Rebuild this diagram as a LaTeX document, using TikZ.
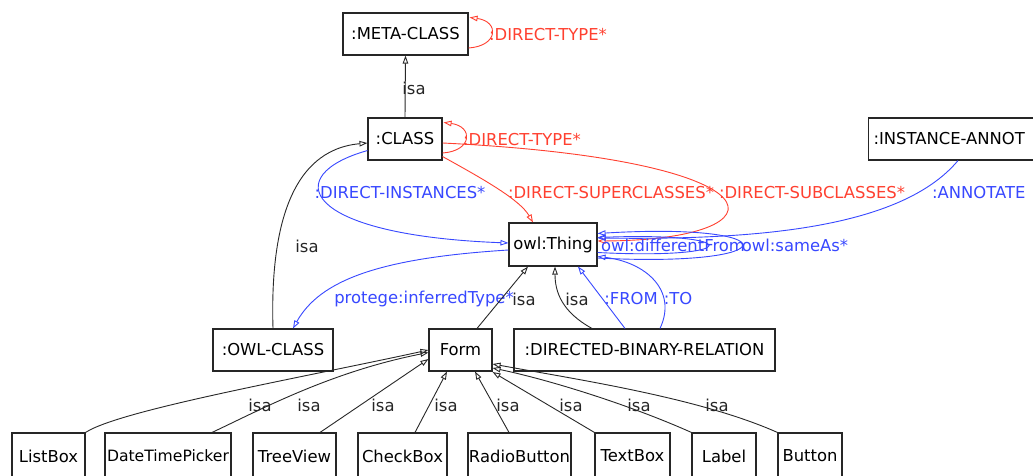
\documentclass[tikz,border=0pt]{standalone}
\usepackage{fontspec}
\setmainfont{DejaVu Sans}
\usetikzlibrary{arrows.meta,calc}
\definecolor{rrel}{RGB}{255,64,48}
\definecolor{brel}{RGB}{56,72,255}
\definecolor{isacol}{RGB}{40,40,40}
\begin{document}
\begin{tikzpicture}[x=1pt,y=-1pt,
  every node/.style={font=\fontsize{16.4}{19}\selectfont},
  box/.style={draw=black!85, line width=1.1pt, minimum height=42pt, inner sep=2pt, fill=white},
  isa/.style={draw=isacol, line width=0.9pt, -{Triangle[open,length=8pt,width=5.5pt]}},
  redrel/.style={draw=rrel, line width=0.9pt, -{Triangle[open,length=8pt,width=5.5pt]}},
  bluerel/.style={draw=brel, line width=0.9pt, -{Triangle[open,length=8pt,width=5.5pt]}},
  lbl/.style={inner sep=0pt, text=black!85},
  rlbl/.style={inner sep=0pt, text=rrel},
  blbl/.style={inner sep=0pt, text=brel}]
\useasboundingbox (0,0) rectangle (1033,476);
\clip (0,0) rectangle (1033,476);
\fill[white] (0,0) rectangle (1033,476);

% nodes
\node[box, minimum width=125pt] (meta) at (405.5,34) {:META-CLASS};
\node[box, minimum width=74pt] (cls) at (405,139) {:CLASS};
\node[box, minimum width=200pt, text width=190pt, align=left, anchor=west, inner sep=4pt] (inst) at (868,139) {:INSTANCE-ANNOT};
\node[box, minimum width=88pt, minimum height=43pt] (thing) at (553,244.5) {owl:Thing};
\node[box, minimum width=120pt] (owlc) at (273,350) {:OWL-CLASS};
\node[box, minimum width=63pt] (form) at (460.5,350) {Form};
\node[box, minimum width=261pt] (dbr) at (644.5,350) {:DIRECTED-BINARY-RELATION};

\node[box, minimum width=73pt, minimum height=46pt] (listbox) at (48.5,456) {ListBox};
\node[box, minimum width=126pt, minimum height=46pt, inner xsep=0pt, font=\fontsize{15.6}{19}\selectfont] (dtp) at (168,456) {DateTimePicker};
\node[box, minimum width=83pt, minimum height=46pt] (tree) at (294.5,456) {TreeView};
\node[box, minimum width=89pt, minimum height=46pt] (check) at (402.5,456) {CheckBox};
\node[box, minimum width=103pt, minimum height=46pt, inner xsep=0pt] (radio) at (519.5,456) {RadioButton};
\node[box, minimum width=75pt, minimum height=46pt] (textbox) at (632.5,456) {TextBox};
\node[box, minimum width=64pt, minimum height=46pt] (labelb) at (724,456) {Label};
\node[box, minimum width=64pt, minimum height=46pt] (button) at (810,456) {Button};

% isa: CLASS -> META-CLASS
\draw[isa] (cls.north) -- (meta.south);
\node[lbl] (l1) at (414,88) {isa};

% self loops DIRECT-TYPE*
\draw[redrel] ($(meta.east)+(0,14)$) .. controls +(30,-2) and +(30,4) .. ($(meta.north east)+(1,5)$);
\node[rlbl] (l2) at (548,35) {:DIRECT-TYPE*};
\draw[redrel] ($(cls.east)+(0,14)$) .. controls +(30,-2) and +(30,4) .. ($(cls.north east)+(1,5)$);
\node[rlbl] (l3) at (522,140) {:DIRECT-TYPE*};

% DIRECT-SUPERCLASSES*
\draw[redrel] ($(cls.south east)+(0,-4)$) .. controls (485,180) and (520,200) .. ($(thing.north)+(-20,0)$);
\node[rlbl] (l4) at (611,193) {:DIRECT-SUPERCLASSES*};

% DIRECT-SUBCLASSES*
\draw[redrel] ($(cls.east)+(0,4)$) .. controls (790,160) and (790,240) .. ($(thing.east)+(0,-3.5)$);
\node[rlbl] (l5) at (812,193) {:DIRECT-SUBCLASSES*};

% DIRECT-INSTANCES*
\draw[bluerel] ($(cls.south west)+(0,-10)$) .. controls (280,175) and (300,235) .. ($(thing.west)+(0,-1.5)$);
\node[blbl] (l6) at (400,193) {:DIRECT-INSTANCES*};

% OWL-CLASS isa CLASS
\draw[isa] (owlc.north) .. controls (270,230) and (290,150) .. ($(cls.west)+(0,4)$);
\node[lbl] (l7) at (307,246) {isa};

% protege:inferredType*
\draw[bluerel] ($(thing.west)+(0,5.5)$) .. controls (380,258) and (320,280) .. ($(owlc.north)+(20,0)$);
\node[blbl] (l8) at (424,299) {protege:inferredType*};

% Form isa owl:Thing
\draw[isa] ($(form.north)+(16.5,0)$) -- ($(thing.south)+(-25,0)$);
\node[lbl] (l9) at (524,299) {isa};

% DBR isa owl:Thing
\draw[isa] ($(dbr.north)+(-52.5,0)$) .. controls (562,312) and (555,292) .. ($(thing.south)+(2,0)$);
\node[lbl] (l10) at (577,299) {isa};

% :FROM
\draw[bluerel] ($(dbr.north)+(-19.5,0)$) -- ($(thing.south)+(25,0)$);
\node[blbl] (l11) at (631,299) {:FROM};

% :TO
\draw[bluerel] ($(dbr.north)+(15.5,0)$) .. controls (678,290) and (645,262) .. ($(thing.east)+(0,12)$);
\node[blbl] (l12) at (678,299) {:TO};

% owl:Thing self loops
\draw[bluerel] ($(thing.east)+(0,13.5)$) .. controls (790,268) and (790,222) .. ($(thing.east)+(0,-11)$);
\draw[bluerel] ($(thing.east)+(0,8)$) .. controls (745,260) and (745,232) .. ($(thing.east)+(0,-7)$);
\node[blbl] (l13) at (673,245) {owl:differentFrom};
\node[blbl] (l14) at (795,245) {owl:sameAs*};

% :ANNOTATE...
\draw[bluerel] ($(inst.south west)+(90,0)$) .. controls (900,230) and (750,240) .. ($(thing.east)+(0,-6.5)$);
\node[blbl, anchor=west] (l15) at (932,193) {:ANNOTATE};

% children isa Form
\draw[isa] (listbox.north east) .. controls (120,410) and (300,378) .. ($(form.west)+(0,0)$);
\draw[isa] ($(dtp.north)+(44,0)$) .. controls (260,410) and (330,372) .. ($(form.west)+(0,2.5)$);
\draw[isa] ($(tree.north)+(25.5,0)$) -- ($(form.west)+(0,9)$);
\draw[isa] ($(check.north)+(12.5,0)$) -- ($(form.south)+(-13.5,0)$);
\draw[isa] ($(radio.north)+(-10.5,0)$) -- ($(form.south)+(14.5,0)$);
\draw[isa] (textbox.north west) -- ($(form.east)+(0,22)$);
\draw[isa] (labelb.north west) .. controls (630,405) and (550,380) .. ($(form.east)+(0,18)$);
\draw[isa] (button.north west) .. controls (700,398) and (580,380) .. ($(form.east)+(0,14)$);
\node[lbl] (i1) at (260,405) {isa};
\node[lbl] (i2) at (309,405) {isa};
\node[lbl] (i3) at (383,405) {isa};
\node[lbl] (i4) at (446,405) {isa};
\node[lbl] (i5) at (508,405) {isa};
\node[lbl] (i6) at (571,405) {isa};
\node[lbl] (i7) at (639,405) {isa};
\node[lbl] (i8) at (717,405) {isa};
\end{tikzpicture}
\end{document}
